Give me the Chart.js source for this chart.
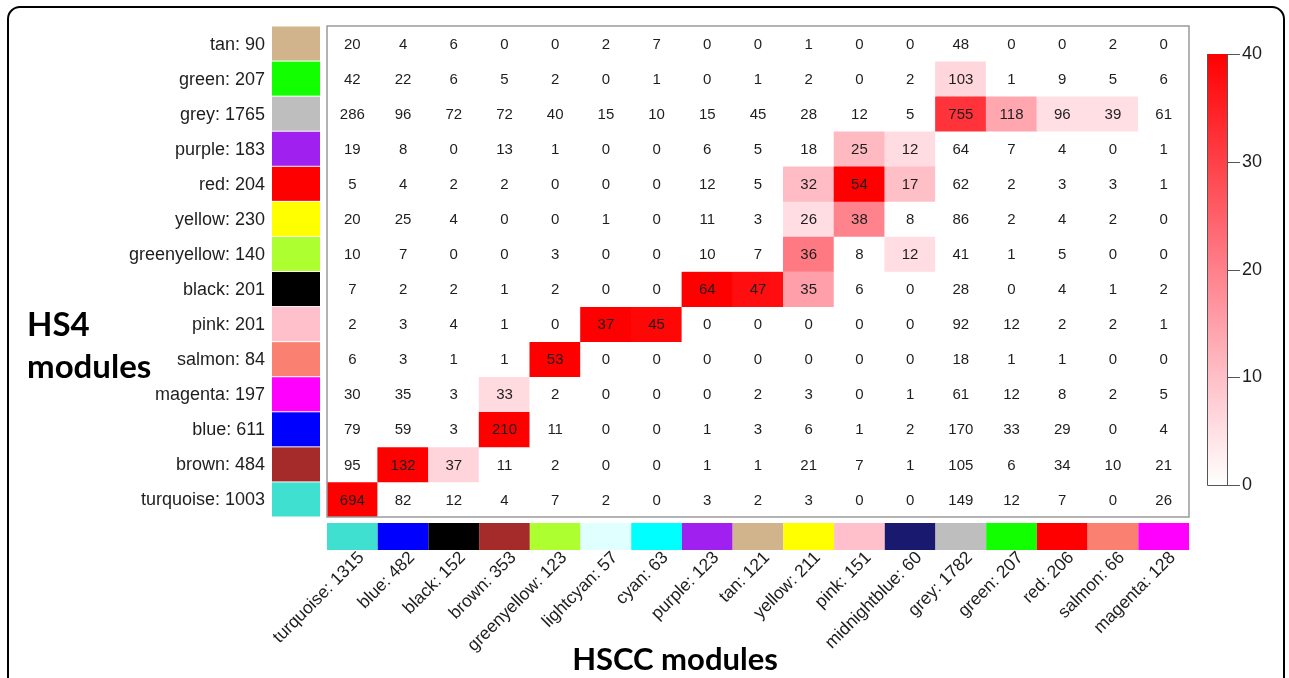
<!DOCTYPE html>
<html>
<head>
<meta charset="utf-8">
<script src="https://cdn.jsdelivr.net/npm/chart.js@4/dist/chart.umd.min.js"></script>
<style>
  html, body { margin: 0; padding: 0; background: #ffffff; }
  #wrap { width: 1289px; height: 678px; position: relative; }
</style>
</head>
<body>
<div id="wrap"><canvas id="c" width="1289" height="678"></canvas></div>
<script>
// ---- data ----
const hs4Modules = ['tan','green','grey','purple','red','yellow','greenyellow','black','pink','salmon','magenta','blue','brown','turquoise'];
const hs4Sizes = [90,207,1765,183,204,230,140,201,201,84,197,611,484,1003];
const hs4Colors = ['#D2B48C','#12FF00','#BEBEBE','#A020F0','#FF0000','#FFFF00','#ADFF2F','#000000','#FFC0CB','#FA8072','#FF00FF','#0000FF','#A52A2A','#40E0D0'];

const hsccModules = ['turquoise','blue','black','brown','greenyellow','lightcyan','cyan','purple','tan','yellow','pink','midnightblue','grey','green','red','salmon','magenta'];
const hsccSizes = [1315,482,152,353,123,57,63,123,121,211,151,60,1782,207,206,66,128];
const hsccColors = ['#40E0D0','#0000FF','#000000','#A52A2A','#ADFF2F','#E0FFFF','#00FFFF','#A020F0','#D2B48C','#FFFF00','#FFC0CB','#191970','#BEBEBE','#12FF00','#FF0000','#FA8072','#FF00FF'];

// overlap counts, one row per HS4 module (top to bottom)
const overlapCounts = [
  [20,4,6,0,0,2,7,0,0,1,0,0,48,0,0,2,0],
  [42,22,6,5,2,0,1,0,1,2,0,2,103,1,9,5,6],
  [286,96,72,72,40,15,10,15,45,28,12,5,755,118,96,39,61],
  [19,8,0,13,1,0,0,6,5,18,25,12,64,7,4,0,1],
  [5,4,2,2,0,0,0,12,5,32,54,17,62,2,3,3,1],
  [20,25,4,0,0,1,0,11,3,26,38,8,86,2,4,2,0],
  [10,7,0,0,3,0,0,10,7,36,8,12,41,1,5,0,0],
  [7,2,2,1,2,0,0,64,47,35,6,0,28,0,4,1,2],
  [2,3,4,1,0,37,45,0,0,0,0,0,92,12,2,2,1],
  [6,3,1,1,53,0,0,0,0,0,0,0,18,1,1,0,0],
  [30,35,3,33,2,0,0,0,2,3,0,1,61,12,8,2,5],
  [79,59,3,210,11,0,0,1,3,6,1,2,170,33,29,0,4],
  [95,132,37,11,2,0,0,1,1,21,7,1,105,6,34,10,21],
  [694,82,12,4,7,2,0,3,2,3,0,0,149,12,7,0,26]
];

// enrichment level (colour scale 0-40), read from the cell shading
const enrichment = [
  [0,0,0,0,0,0,0,0,0,0,0,0,0,0,0,0,0],
  [0,0,0,0,0,0,0,0,0,0,0,0,6.5,0,0,0,0],
  [0,0,0,0,0,0,0,0,0,0,0,0,32,14,5,5,0],
  [0,0,0,0,0,0,0,0,0,0,11,5.5,0,0,0,0,0],
  [0,0,0,0,0,0,0,0,0,10.5,40,10,0,0,0,0,0],
  [0,0,0,0,0,0,0,0,0,5.3,19.5,0,0,0,0,0,0],
  [0,0,0,0,0,0,0,0,0,21,0,5.3,0,0,0,0,0],
  [0,0,0,0,0,0,0,40,38,15,0,0,0,0,0,0,0],
  [0,0,0,0,0,40,39,0,0,0,0,0,0,0,0,0,0],
  [0,0,0,0,40,0,0,0,0,0,0,0,0,0,0,0,0],
  [0,0,0,5.8,0,0,0,0,0,0,0,0,0,0,0,0,0],
  [0,0,0,40,0,0,0,0,0,0,0,0,0,0,0,0,0],
  [0,40,6.7,0,0,0,0,0,0,0,0,0,0,0,0,0,0],
  [40,0,0,0,0,0,0,0,0,0,0,0,0,0,0,0,0]
];

const colorTicks = [0,10,20,30,40];
const colorMax = 40;

// ---- helpers ----
function levelColor(v) {
  const t = Math.max(0, Math.min(1, v / colorMax));
  const g = Math.round(255 * (1 - t));
  const b = Math.round(255 * (1 - t) + 10 * t * (1 - t) * 4);
  return 'rgb(255,' + g + ',' + Math.min(255, b) + ')';
}

const nRows = hs4Modules.length;
const labels = hsccModules.map((m, j) => m + ': ' + hsccSizes[j]);

const datasets = hs4Modules.map((m, r) => {
  const pos = nRows - 1 - r; // top row drawn highest
  return {
    label: m + ': ' + hs4Sizes[r],
    data: overlapCounts[r].map(() => [pos, pos + 1]),
    backgroundColor: enrichment[r].map(levelColor),
    borderWidth: 0,
    barPercentage: 1.0,
    categoryPercentage: 1.0,
    grouped: false
  };
});

const FONT = '"Liberation Sans", Arial, sans-serif';
const TITLE_FONT = 'Lato, "Open Sans", sans-serif';

const heatPlugin = {
  id: 'heatDecor',
  afterDraw(chart) {
    const ctx = chart.ctx;
    const area = chart.chartArea;
    const xs = chart.scales.x;
    const ys = chart.scales.y;
    ctx.save();

    // plot border
    ctx.strokeStyle = '#9a9a9a';
    ctx.lineWidth = 1.5;
    ctx.strokeRect(area.left, area.top, area.right - area.left, area.bottom - area.top);

    const colW = xs.getPixelForValue(1) - xs.getPixelForValue(0);

    // cell numbers
    ctx.fillStyle = '#1e1e1e';
    ctx.font = '15px ' + FONT;
    ctx.textAlign = 'center';
    ctx.textBaseline = 'middle';
    overlapCounts.forEach((row, r) => {
      const pos = nRows - 1 - r;
      const yc = (ys.getPixelForValue(pos) + ys.getPixelForValue(pos + 1)) / 2;
      row.forEach((v, j) => {
        ctx.fillText(String(v), xs.getPixelForValue(j), yc + 1);
      });
    });

    // row labels and row colour strip
    ctx.font = '18px ' + FONT;
    ctx.textAlign = 'right';
    hs4Modules.forEach((m, r) => {
      const pos = nRows - 1 - r;
      const y0 = ys.getPixelForValue(pos + 1);
      const y1 = ys.getPixelForValue(pos);
      ctx.fillStyle = hs4Colors[r];
      ctx.fillRect(area.left - 55, y0 + 0.5, 48, y1 - y0 - 1);
      ctx.fillStyle = '#1e1e1e';
      ctx.fillText(m + ': ' + hs4Sizes[r], area.left - 62, (y0 + y1) / 2 + 1);
    });

    // column colour strip and rotated labels
    hsccModules.forEach((m, j) => {
      const xc = xs.getPixelForValue(j);
      ctx.fillStyle = hsccColors[j];
      ctx.fillRect(xc - colW / 2, area.bottom + 6, colW, 27);
      ctx.save();
      ctx.translate(xc + 9, area.bottom + 38);
      ctx.rotate(-Math.PI / 4);
      ctx.fillStyle = '#1e1e1e';
      ctx.font = '17.5px ' + FONT;
      ctx.textAlign = 'right';
      ctx.textBaseline = 'middle';
      ctx.fillText(labels[j], 0, 0);
      ctx.restore();
    });

    // axis titles
    ctx.fillStyle = '#000';
    ctx.font = 'bold 33px ' + TITLE_FONT;
    ctx.textAlign = 'left';
    ctx.textBaseline = 'middle';
    ctx.fillText('HS4', 27, 325);
    ctx.fillText('modules', 27, 367);
    ctx.font = 'bold 31px ' + TITLE_FONT;
    ctx.textAlign = 'center';
    ctx.fillText('HSCC modules', 675, 660);

    // colour bar
    const cbX = 1207, cbW = 20, cbTop = 54, cbBot = 485;
    const grad = ctx.createLinearGradient(0, cbBot, 0, cbTop);
    const steps = 20;
    for (let k = 0; k <= steps; k++) {
      grad.addColorStop(k / steps, levelColor(colorMax * k / steps));
    }
    ctx.fillStyle = grad;
    ctx.fillRect(cbX, cbTop, cbW, cbBot - cbTop);
    ctx.strokeStyle = '#555';
    ctx.lineWidth = 1;
    ctx.beginPath();
    ctx.moveTo(cbX + 0.5, cbTop);
    ctx.lineTo(cbX + 0.5, cbBot + 0.5);
    ctx.lineTo(cbX + cbW + 0.5, cbBot + 0.5);
    ctx.lineTo(cbX + cbW + 0.5, cbTop);
    ctx.stroke();
    ctx.font = '18px ' + FONT;
    ctx.fillStyle = '#1e1e1e';
    ctx.textAlign = 'left';
    ctx.textBaseline = 'middle';
    colorTicks.forEach(t => {
      const y = Math.round(cbBot - (t / colorMax) * (cbBot - cbTop)) + 0.5;
      ctx.beginPath();
      ctx.moveTo(cbX + cbW, y);
      ctx.lineTo(cbX + cbW + 13, y);
      ctx.stroke();
      ctx.fillText(String(t), cbX + cbW + 15, y);
    });

    // rounded figure frame
    ctx.strokeStyle = '#000';
    ctx.lineWidth = 2;
    const fx = 8, fy = 7, fr = 12, fR = 1284, fB = 700;
    ctx.beginPath();
    ctx.moveTo(fx, fB);
    ctx.lineTo(fx, fy + fr);
    ctx.arcTo(fx, fy, fx + fr, fy, fr);
    ctx.lineTo(fR - fr, fy);
    ctx.arcTo(fR, fy, fR, fy + fr, fr);
    ctx.lineTo(fR, fB);
    ctx.stroke();

    ctx.restore();
  }
};

new Chart(document.getElementById('c'), {
  type: 'bar',
  data: { labels: labels, datasets: datasets },
  options: {
    responsive: false,
    animation: false,
    devicePixelRatio: 1,
    layout: { padding: { left: 327, right: 100, top: 26, bottom: 161 } },
    plugins: { legend: { display: false }, tooltip: { enabled: false } },
    scales: {
      x: { type: 'category', display: false, offset: true, grid: { display: false } },
      y: { type: 'linear', display: false, min: 0, max: nRows, grid: { display: false } }
    }
  },
  plugins: [heatPlugin]
});
</script>
</body>
</html>
